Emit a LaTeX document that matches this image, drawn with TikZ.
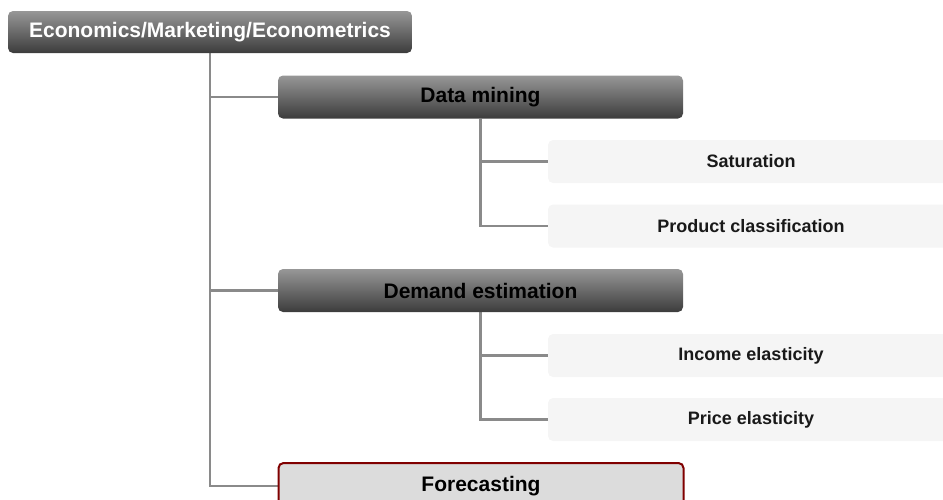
\documentclass[tikz,border=0pt]{standalone}
\usepackage{fontspec}
\setmainfont{Liberation Sans}
\usepackage{xcolor}
\usepackage{tikz}
\usetikzlibrary{positioning,calc}
\pgfdeclarelayer{bg}
\pgfsetlayers{bg,main}

\definecolor{linkgray}{HTML}{8A8A8A}
\definecolor{toptone}{HTML}{979797}
\definecolor{bottone}{HTML}{3C3C3C}
\definecolor{leafgray}{HTML}{F5F5F5}
\definecolor{focusred}{HTML}{800000}
\definecolor{focusfill}{HTML}{DCDCDC}

\tikzset{
  box/.style = {rounded corners = 5pt, inner sep = 0pt, align = center},
  rootbox/.style = {box, top color = toptone, bottom color = bottone,
    minimum width = 404pt, minimum height = 42pt, text = white,
    font = \bfseries\fontsize{21}{24}\selectfont},
  topicbox/.style = {box, top color = toptone, bottom color = bottone,
    minimum width = 405pt, minimum height = 43pt, text = black,
    font = \bfseries\fontsize{21}{24}\selectfont},
  leafbox/.style = {box, fill = leafgray, minimum width = 406pt,
    minimum height = 43pt, text = black!90,
    font = \bfseries\fontsize{18}{21}\selectfont},
  focusbox/.style = {box, fill = focusfill, draw = focusred, line width = 2pt,
    minimum width = 405pt, minimum height = 46pt, text = black,
    font = \bfseries\fontsize{21}{24}\selectfont},
  link/.style = {draw = linkgray, line width = 2.5pt},
}

\begin{document}
\begin{tikzpicture}[x = 1pt, y = -1pt]
    \useasboundingbox (0,0) rectangle (943,499);
    \clip (0,0) rectangle (943,499);
    \node[rootbox] (econ) at (210,32) {Economics/Marketing/Econometrics};
    \node[topicbox] (mining) at (480.5,97) {Data mining};
    \node[leafbox] (satur) at (751,161.5) {Saturation};
    \node[leafbox] (classif) at (751,226) {Product classification};
    \node[topicbox] (demand) at (480.5,290.5) {Demand estimation};
    \node[leafbox] (income) at (751,355.5) {Income elasticity};
    \node[leafbox] (price) at (751,419.5) {Price elasticity};
    \node[focusbox] (forecast) at (481,486) {Forecasting};
    % tree links go under the boxes
    \begin{pgfonlayer}{bg}
    \draw[link] (econ.south) |- (mining.west);
    \draw[link] (econ.south) |- (demand.west);
    \draw[link] (econ.south) |- (forecast.west);
    \draw[link] (mining.south) |- (satur.west);
    \draw[link] (mining.south) |- (classif.west);
    \draw[link] (demand.south) |- (income.west);
    \draw[link] (demand.south) |- (price.west);
    \end{pgfonlayer}
\end{tikzpicture}
\end{document}
